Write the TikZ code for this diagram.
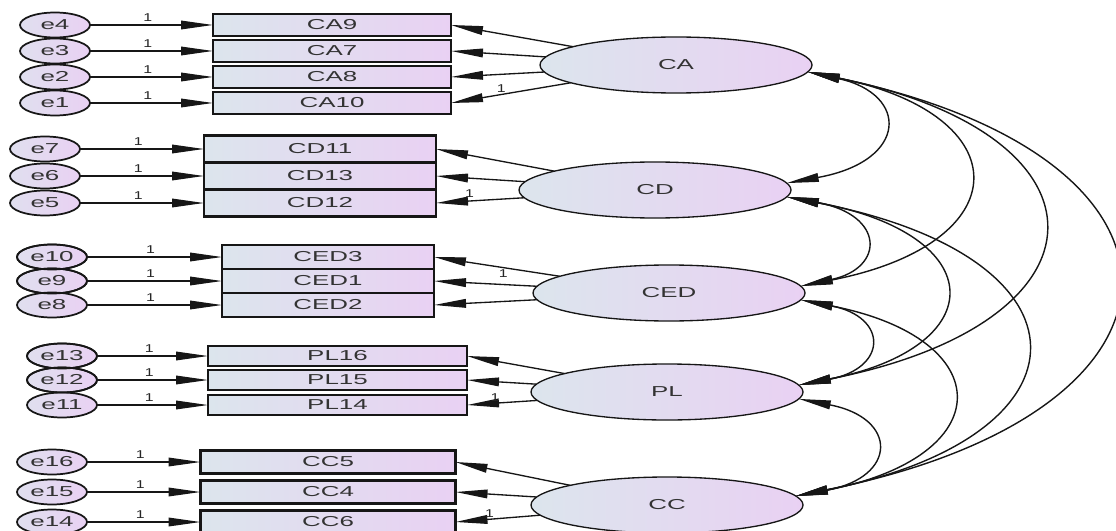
\documentclass[tikz,border=0pt]{standalone}
\usepackage{fontspec}
\setmainfont{Liberation Sans}
\newfontfamily\amos[FakeStretch=1.8]{Liberation Sans}
\newfontfamily\amosone[FakeStretch=1.4]{Liberation Sans}
\usetikzlibrary{shapes.geometric,arrows.meta}
\definecolor{gradL}{RGB}{220,229,237}
\definecolor{gradR}{RGB}{233,209,243}
\definecolor{edge}{RGB}{22,22,22}
\begin{document}
\begin{tikzpicture}[x=0.75pt,y=-0.75pt,
  lbl/.style={font=\amos\fontsize{10.8}{12}\selectfont, text=black!80},
  obsbox/.style={rectangle, draw=edge, line width=1.6pt, left color=gradL, right color=gradR, inner sep=0pt, outer sep=0pt, lbl},
  boxCA/.style={obsbox, minimum width=178.5pt, minimum height=16pt},
  boxCD/.style={obsbox, minimum width=174pt, minimum height=20.25pt},
  boxCED/.style={obsbox, minimum width=159pt, minimum height=17.6pt},
  boxPL/.style={obsbox, minimum width=194.25pt, minimum height=14.5pt},
  boxCC/.style={obsbox, minimum width=191.25pt, minimum height=17.25pt},
  errnode/.style={ellipse, draw=edge, line width=1.3pt, left color=gradL!70!gradR, right color=gradR, minimum width=52.5pt, minimum height=18.75pt, inner sep=0pt, outer sep=0pt, lbl},
  erroutline/.style={ellipse, draw=edge, line width=1.3pt, minimum width=52.5pt, minimum height=18.75pt, inner sep=0pt, outer sep=0pt},
  latent/.style={ellipse, draw=edge, line width=1pt, left color=gradL, right color=gradR, minimum width=204pt, minimum height=42pt, inner sep=0pt, outer sep=0pt, lbl},
  tip/.tip={Triangle[length=24pt,width=6.5pt]},
  arr/.style={line width=1pt, draw=edge, -tip},
  cov/.style={line width=1.05pt, draw=edge, tip-tip},
  one/.style={font=\amosone\fontsize{8.5}{9}\selectfont, text=black!85, inner sep=1pt}
]
\useasboundingbox (0,0) rectangle (1116,531);

% ---------- latent variables ----------
\node[latent] (CA)  at (676,65)  {CA};
\node[latent] (CD)  at (655,190) {CD};
\node[latent] (CED) at (669,293) {CED};
\node[latent] (PL)  at (667,392) {PL};
\node[latent] (CC)  at (667,505) {CC};

% ---------- observed boxes ----------
\node[boxCA] (CA9)  at (332,25)  {CA9};
\node[boxCA] (CA7)  at (332,51)  {CA7};
\node[boxCA] (CA8)  at (332,77)  {CA8};
\node[boxCA] (CA10) at (332,103) {CA10};

\node[boxCD] (CD11) at (320,149) {CD11};
\node[boxCD] (CD13) at (320,176) {CD13};
\node[boxCD] (CD12) at (320,203) {CD12};

\node[boxCED] (CED3) at (328,257) {CED3};
\node[boxCED] (CED1) at (328,281) {CED1};
\node[boxCED] (CED2) at (328,305) {CED2};

\node[boxPL] (PL16) at (337.5,356) {PL16};
\node[boxPL] (PL15) at (337.5,380) {PL15};
\node[boxPL] (PL14) at (337.5,405) {PL14};

\node[boxCC] (CC5) at (328,462) {CC5};
\node[boxCC] (CC4) at (328,492) {CC4};
\node[boxCC] (CC6) at (328,522) {CC6};

% ---------- error terms ----------
\node[errnode] (e4) at (55,25)  {e4};
\node[errnode] (e3) at (55,51)  {e3};
\node[errnode] (e2) at (55,77)  {e2};
\node[errnode] (e1) at (55,103) {e1};

\node[errnode] (e7) at (45,149) {e7};
\node[errnode] (e6) at (45,176) {e6};
\node[errnode] (e5) at (45,203) {e5};

\node[errnode] (e10) at (52,257) {e10};
\node[errnode] (e9)  at (52,281) {e9};
\node[errnode] (e8)  at (52,305) {e8};

\node[errnode] (e13) at (62,356) {e13};
\node[errnode] (e12) at (62,380) {e12};
\node[errnode] (e11) at (62,405) {e11};

\node[errnode] (e16) at (52,462) {e16};
\node[errnode] (e15) at (52,492) {e15};
\node[errnode] (e14) at (52,522) {e14};

% outlines of overlapping error ellipses stay visible
\foreach \e in {e10,e9,e13,e12}
  \node[erroutline] (o\e) at (\e) {};

% ---------- error paths ----------
\foreach \e/\b in {e4/CA9,e3/CA7,e2/CA8,e1/CA10,e7/CD11,e6/CD13,e5/CD12,
                   e10/CED3,e9/CED1,e8/CED2,e13/PL16,e12/PL15,e11/PL14,
                   e16/CC5,e15/CC4,e14/CC6}
  \draw[arr] (\e) -- node[one, pos=0.47, above=1pt] (w\e) {1} (\b.west);

% ---------- loadings ----------
\draw[arr] (CA) -- (CA9.east);
\draw[arr] (CA) -- (CA7.east);
\draw[arr] (CA) -- (CA8.east);
\draw[arr] (CA) -- node[one, pos=0.58, above=0pt] (lCA) {1} (CA10.east);

\draw[arr] (CD) -- (CD11.east);
\draw[arr] (CD) -- (CD13.east);
\draw[arr] (CD) -- node[one, pos=0.62, above=1pt] (lCD) {1} (CD12.east);

\draw[arr] (CED) -- node[one, pos=0.45, below=0pt] (lCED) {1} (CED3.east);
\draw[arr] (CED) -- (CED1.east);
\draw[arr] (CED) -- (CED2.east);

\draw[arr] (PL) -- (PL16.east);
\draw[arr] (PL) -- (PL15.east);
\draw[arr] (PL) -- node[one, pos=0.6, above=0pt] (lPL) {1} (PL14.east);

\draw[arr] (CC) -- (CC5.east);
\draw[arr] (CC) -- (CC4.east);
\draw[arr] (CC) -- node[one, pos=0.6, above=0pt] (lCC) {1} (CC6.east);

% ---------- covariances ----------
\draw[cov] (CA.-3) .. controls (909,94) and (909,161) .. (CD.3);
\draw[cov] (CA.-3) .. controls (1020,115) and (1020,243) .. (CED.3);
\draw[cov] (CA.-3) .. controls (1119,135) and (1119,322) .. (PL.3);
\draw[cov] (CA.-3) .. controls (1218,157) and (1218,411) .. (CC.4);
\draw[cov] (CD.-3) .. controls (885,215) and (885,268) .. (CED.3);
\draw[cov] (CD.-3) .. controls (992,235) and (992,347) .. (PL.3);
\draw[cov] (CD.-3) .. controls (1100,257) and (1100,436) .. (CC.4);
\draw[cov] (CED.-3) .. controls (888,317) and (888,368) .. (PL.3);
\draw[cov] (CED.-3) .. controls (1000,339) and (1000,457) .. (CC.4);
\draw[cov] (PL.-3) .. controls (898,418) and (898,477) .. (CC.4);
\end{tikzpicture}
\end{document}
